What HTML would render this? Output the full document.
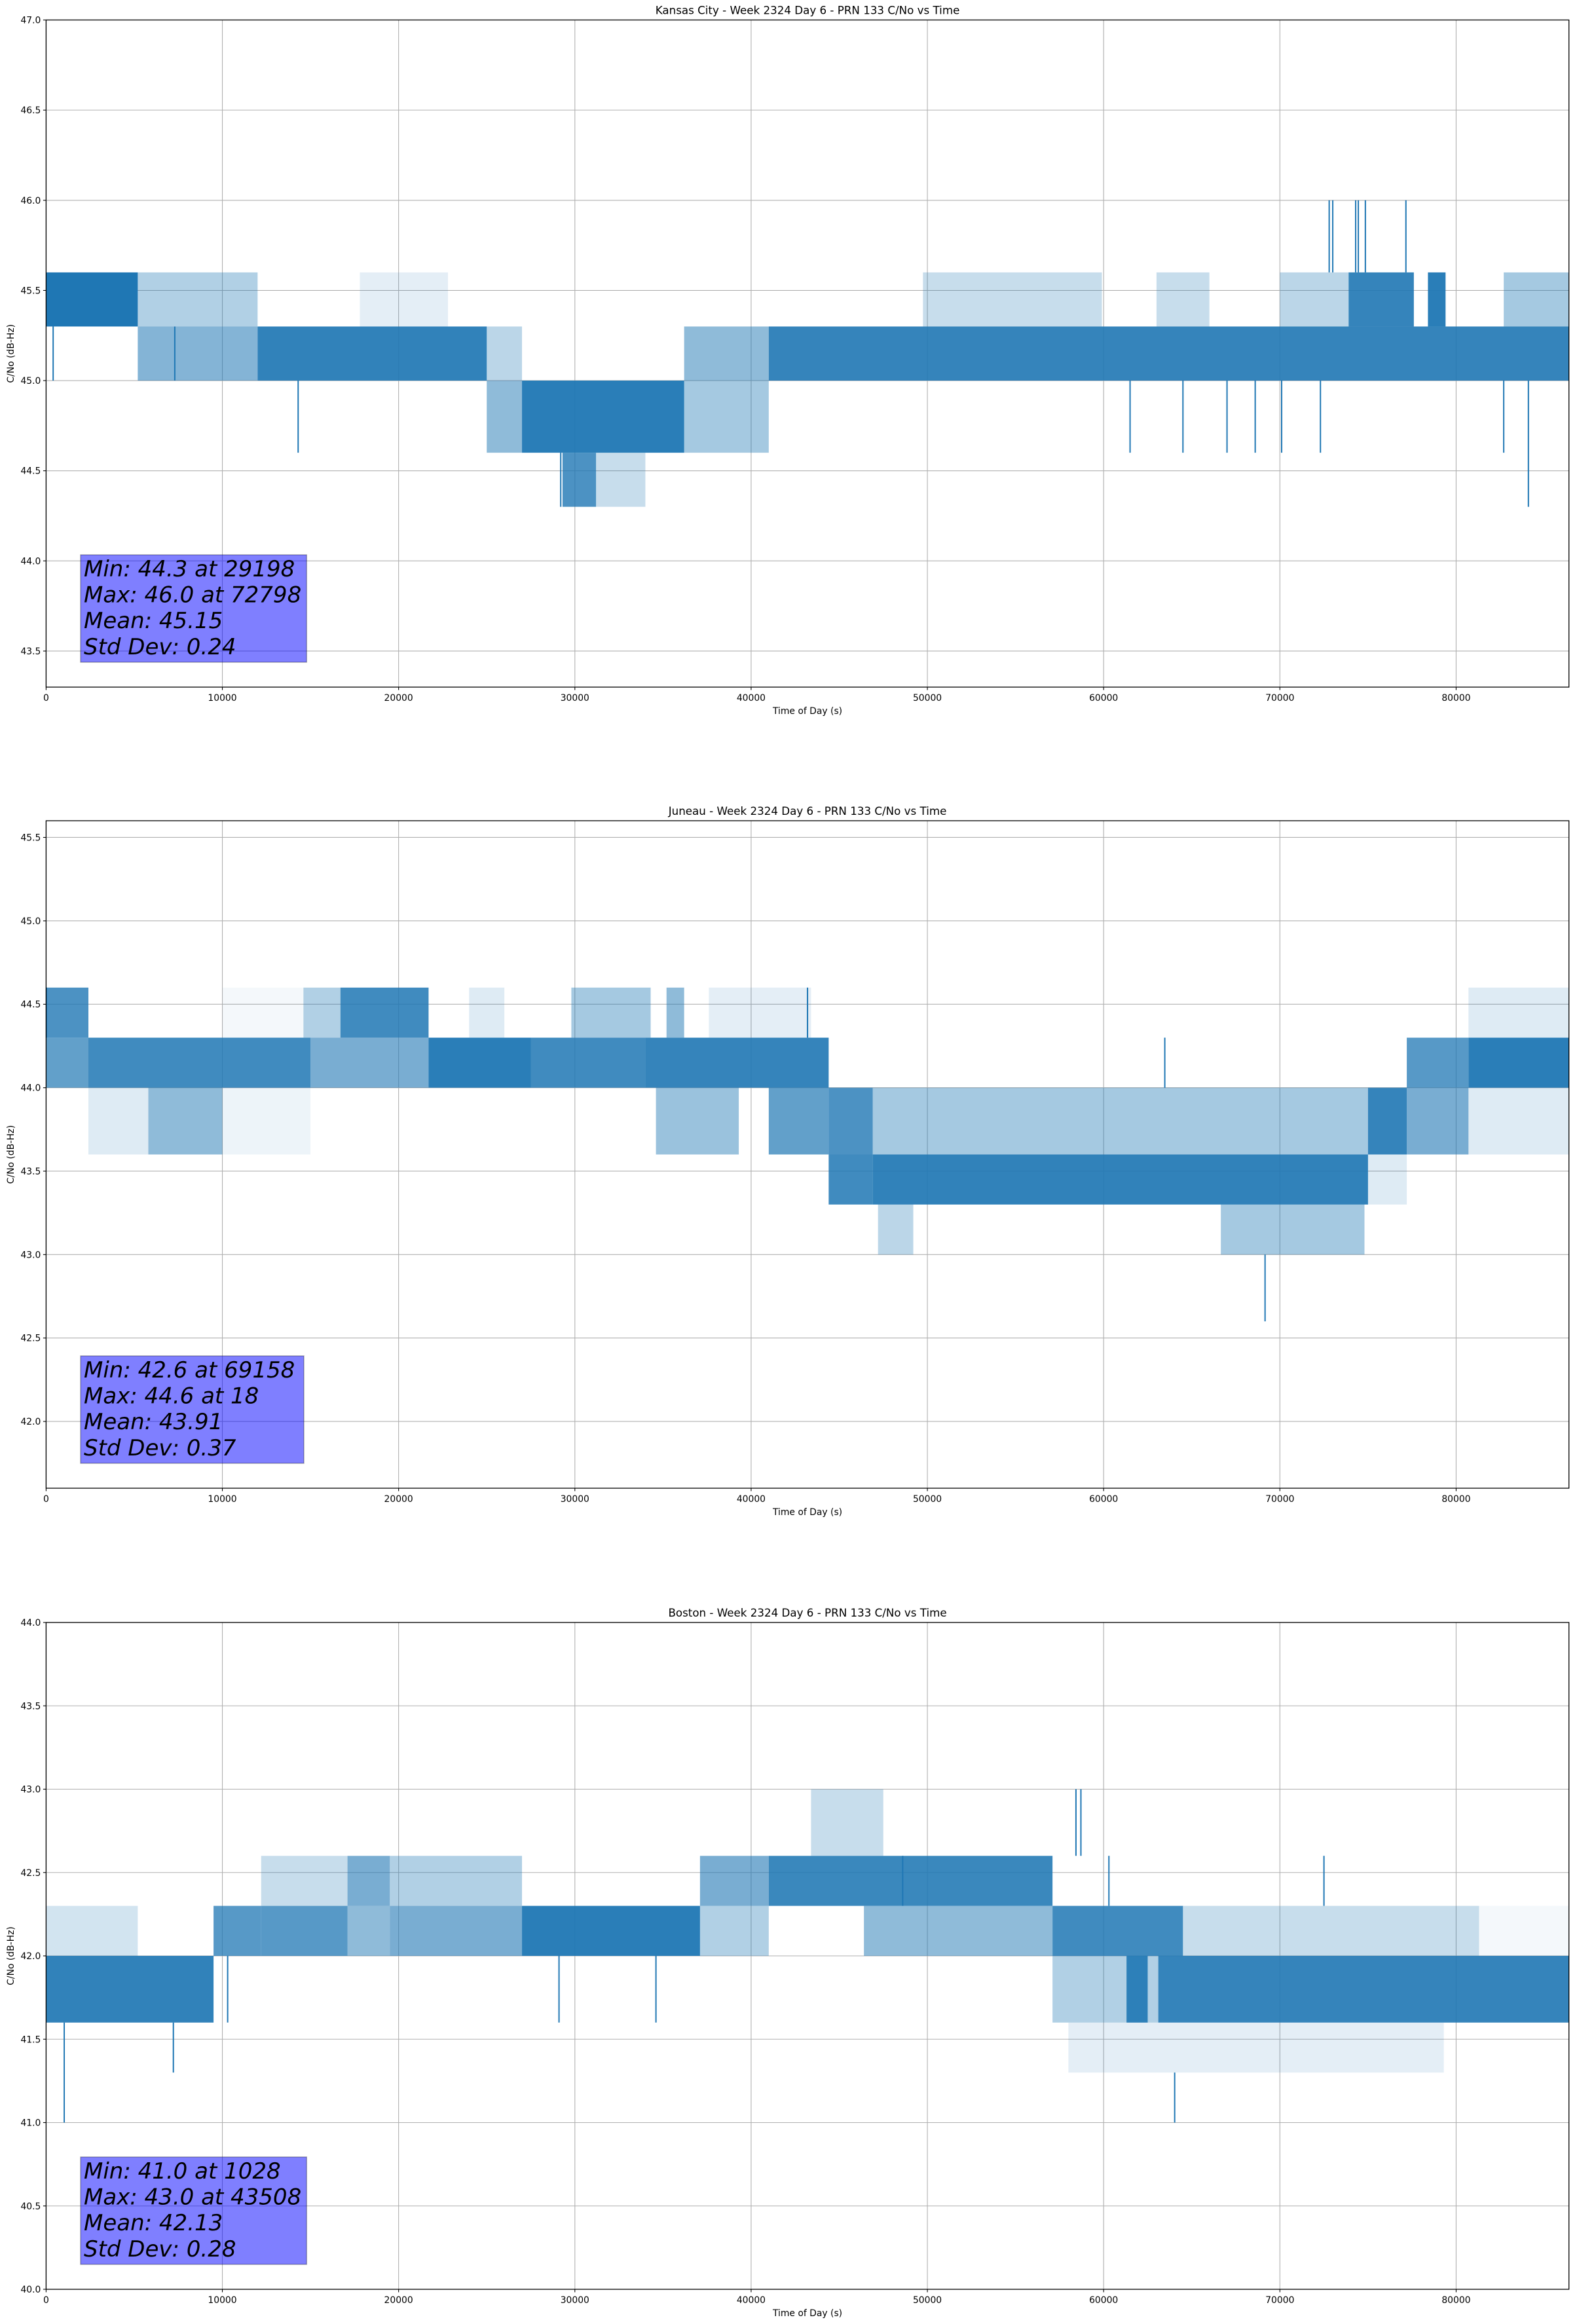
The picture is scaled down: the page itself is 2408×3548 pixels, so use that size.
<!DOCTYPE html>
<html>
<head>
<meta charset="utf-8">
<style>
  html,body{margin:0;padding:0;background:#fff;}
  svg{display:block;font-family:"DejaVu Sans","Liberation Sans",sans-serif;}
</style>
</head>
<body>
<svg id="chart" width="2408" height="3548" viewBox="0 0 2408 3548" xmlns="http://www.w3.org/2000/svg">
  <rect x="0" y="0" width="2408" height="3548" fill="#ffffff"/>
</svg>
<script>
// ---------- shared axis data ----------
const xTicks = [0, 10000, 20000, 30000, 40000, 50000, 60000, 70000, 80000];
const xMax = 86400;

// ---------- Kansas City ----------
const kcTitle = "Kansas City - Week 2324 Day 6 - PRN 133 C/No vs Time";
const kcYTicks = [43.5, 44.0, 44.5, 45.0, 45.5, 46.0, 46.5, 47.0];
const kcBandStart = [0, 5200, 5200, 12000, 17800, 25000, 25000, 27000, 29300, 31200, 36200, 36200, 41000, 49750, 63000, 70000, 73900, 78400, 82700];
const kcBandEnd   = [5200, 12000, 12000, 25000, 22800, 27000, 27000, 36200, 31200, 34000, 41000, 41000, 86400, 59900, 66000, 73900, 77600, 79400, 86400];
const kcBandLo    = [45.3, 45.3, 45.0, 45.0, 45.3, 45.0, 44.6, 44.6, 44.3, 44.3, 44.6, 45.0, 45.0, 45.3, 45.3, 45.3, 45.3, 45.3, 45.3];
const kcBandHi    = [45.6, 45.6, 45.3, 45.3, 45.6, 45.3, 45.0, 45.0, 44.6, 44.6, 45.0, 45.3, 45.3, 45.6, 45.6, 45.6, 45.6, 45.6, 45.6];
const kcBandDen   = [1.0, 0.35, 0.55, 0.92, 0.12, 0.3, 0.5, 0.95, 0.8, 0.25, 0.4, 0.5, 0.9, 0.25, 0.25, 0.3, 0.9, 0.95, 0.4];
const kcSpikeT    = [400, 7300, 14300, 29198, 61500, 64500, 67000, 68600, 70100, 72300, 82700, 84100, 72798, 73000, 74300, 74450, 74850, 77150];
const kcSpikeFrom = [45.3, 45.3, 45.0, 44.6, 45.0, 45.0, 45.0, 45.0, 45.0, 45.0, 45.0, 45.0, 45.6, 45.6, 45.6, 45.6, 45.6, 45.6];
const kcSpikeTo   = [45.0, 45.0, 44.6, 44.3, 44.6, 44.6, 44.6, 44.6, 44.6, 44.6, 44.6, 44.3, 46.0, 46.0, 46.0, 46.0, 46.0, 46.0];
const kcStats = ["Min: 44.3 at 29198", "Max: 46.0 at 72798", "Mean: 45.15", "Std Dev: 0.24"];

// ---------- Juneau ----------
const jnTitle = "Juneau - Week 2324 Day 6 - PRN 133 C/No vs Time";
const jnYTicks = [42.0, 42.5, 43.0, 43.5, 44.0, 44.5, 45.0, 45.5];
const jnBandStart = [0, 0, 2400, 2400, 5800, 10000, 10000, 14600, 16700, 15000, 21700, 24000, 27500, 29800, 35200, 37600, 34000, 34600, 41000, 44400, 44400, 46900, 46900, 47200, 66650, 75000, 75000, 77200, 77200, 80700, 80700, 80700];
const jnBandEnd   = [2400, 2400, 15000, 5800, 10000, 15000, 14600, 16700, 21700, 21700, 27500, 26000, 34000, 34300, 36200, 43400, 44400, 39300, 44400, 46900, 46900, 75000, 75000, 49200, 74800, 77200, 77200, 80700, 80700, 86400, 86400, 86400];
const jnBandLo    = [44.3, 44.0, 44.0, 43.6, 43.6, 43.6, 44.3, 44.3, 44.3, 44.0, 44.0, 44.3, 44.0, 44.3, 44.3, 44.3, 44.0, 43.6, 43.6, 43.6, 43.3, 43.3, 43.6, 43.0, 43.0, 43.6, 43.3, 43.6, 44.0, 44.0, 43.6, 44.3];
const jnBandHi    = [44.6, 44.3, 44.3, 44.0, 44.0, 44.0, 44.6, 44.6, 44.6, 44.3, 44.3, 44.6, 44.3, 44.6, 44.6, 44.6, 44.3, 44.0, 44.0, 44.0, 43.6, 43.6, 44.0, 43.3, 43.3, 44.0, 43.6, 44.0, 44.3, 44.3, 44.0, 44.6];
const jnBandDen   = [0.8, 0.7, 0.85, 0.15, 0.5, 0.08, 0.05, 0.35, 0.85, 0.6, 0.95, 0.15, 0.85, 0.4, 0.5, 0.12, 0.9, 0.45, 0.7, 0.8, 0.85, 0.92, 0.4, 0.3, 0.4, 0.9, 0.15, 0.6, 0.75, 0.95, 0.15, 0.15];
const jnSpikeT    = [18, 43200, 63470, 69158];
const jnSpikeFrom = [44.3, 44.3, 44.0, 43.0];
const jnSpikeTo   = [44.6, 44.6, 44.3, 42.6];
const jnStats = ["Min: 42.6 at 69158", "Max: 44.6 at 18", "Mean: 43.91", "Std Dev: 0.37"];

// ---------- Boston ----------
const bsTitle = "Boston - Week 2324 Day 6 - PRN 133 C/No vs Time";
const bsYTicks = [40.0, 40.5, 41.0, 41.5, 42.0, 42.5, 43.0, 43.5, 44.0];
const bsBandStart = [0, 0, 9500, 12200, 12200, 17100, 17100, 19500, 19500, 27000, 37100, 37100, 41000, 46400, 43400, 57100, 57100, 61300, 63100, 64500, 81300, 58000];
const bsBandEnd   = [9500, 5200, 12200, 17100, 17100, 19500, 19500, 27000, 27000, 37100, 41000, 41000, 57100, 57100, 47500, 64500, 63100, 62500, 86400, 81300, 86400, 79300];
const bsBandLo    = [41.6, 42.0, 42.0, 42.0, 42.3, 42.0, 42.3, 42.0, 42.3, 42.0, 42.3, 42.0, 42.3, 42.0, 42.6, 42.0, 41.6, 41.6, 41.6, 42.0, 42.0, 41.3];
const bsBandHi    = [42.0, 42.3, 42.3, 42.3, 42.6, 42.3, 42.6, 42.3, 42.6, 42.3, 42.6, 42.3, 42.6, 42.3, 43.0, 42.3, 42.0, 42.0, 42.0, 42.3, 42.3, 41.6];
const bsBandDen   = [0.92, 0.2, 0.75, 0.75, 0.25, 0.5, 0.6, 0.6, 0.35, 0.95, 0.6, 0.35, 0.88, 0.5, 0.25, 0.85, 0.35, 0.9, 0.9, 0.25, 0.05, 0.12];
const bsSpikeT    = [1028, 7220, 10300, 29100, 34600, 48600, 60300, 72500, 58430, 58710, 64030];
const bsSpikeFrom = [41.6, 41.6, 42.0, 42.0, 42.0, 42.3, 42.3, 42.3, 42.6, 42.6, 41.3];
const bsSpikeTo   = [41.0, 41.3, 41.6, 41.6, 41.6, 42.6, 42.6, 42.6, 43.0, 43.0, 41.0];
const bsStats = ["Min: 41.0 at 1028", "Max: 43.0 at 43508", "Mean: 42.13", "Std Dev: 0.28"];

// ---------- rendering ----------
const NS = "http://www.w3.org/2000/svg";
const svg = document.getElementById("chart");
const AX_LEFT = 70.4, AX_RIGHT = 2395.7;
const BLUE = "#1f77b4";

function mk(tag, attrs, parent) {
  const e = document.createElementNS(NS, tag);
  for (const k in attrs) e.setAttribute(k, attrs[k]);
  parent.appendChild(e);
  return e;
}

function drawPlot(key, top, bottom, ymin, ymax, title, yTicks, bStart, bEnd, bLo, bHi, bDen, sT, sFrom, sTo, stats) {
  const g = mk("g", {}, svg);
  
  
  const xs = t => AX_LEFT + (t / xMax) * (AX_RIGHT - AX_LEFT);
  const ys = v => bottom - (v - ymin) / (ymax - ymin) * (bottom - top);

  const grid = mk("g", {stroke: "#b0b0b0", "stroke-width": 1.1}, g);
  
  
  xTicks.forEach(t => {
    const l = mk("line", {x1: xs(t), x2: xs(t), y1: top, y2: bottom}, grid);
    
    
  });
  yTicks.forEach(v => {
    const l = mk("line", {x1: AX_LEFT, x2: AX_RIGHT, y1: ys(v), y2: ys(v)}, grid);
    
    
  });

  const series = mk("g", {fill: BLUE}, g);
  
  
  for (let i = 0; i < bStart.length; i++) {
    const r = mk("rect", {x: xs(bStart[i]), y: ys(bHi[i]), width: xs(bEnd[i]) - xs(bStart[i]), height: ys(bLo[i]) - ys(bHi[i]), "fill-opacity": bDen[i]}, series);
    
    
  }
  for (let i = 0; i < sT.length; i++) {
    const l = mk("line", {x1: xs(sT[i]), x2: xs(sT[i]), y1: ys(sFrom[i]), y2: ys(sTo[i]), stroke: BLUE, "stroke-width": 2}, series);
    
    
  }

  const frame = mk("rect", {x: AX_LEFT, y: top, width: AX_RIGHT - AX_LEFT, height: bottom - top, fill: "none", stroke: "#000", "stroke-width": 1.3}, g);
  
  

  xTicks.forEach(t => {
    const tk = mk("line", {x1: xs(t), x2: xs(t), y1: bottom, y2: bottom + 4.5, stroke: "#000", "stroke-width": 1.1}, g);
    
    
    const tx = mk("text", {x: xs(t), y: bottom + 21, "font-size": 13.9, "text-anchor": "middle", fill: "#000"}, g);
    
    
    tx.textContent = String(t);
  });
  yTicks.forEach(v => {
    const tk = mk("line", {x1: AX_LEFT - 4.5, x2: AX_LEFT, y1: ys(v), y2: ys(v), stroke: "#000", "stroke-width": 1.1}, g);
    
    
    const tx = mk("text", {x: AX_LEFT - 8, y: ys(v) + 5, "font-size": 13.9, "text-anchor": "end", fill: "#000"}, g);
    
    
    tx.textContent = v.toFixed(1);
  });

  const tt = mk("text", {x: (AX_LEFT + AX_RIGHT) / 2, y: top - 9, "font-size": 16.7, "text-anchor": "middle", fill: "#000"}, g);
  
  
  tt.textContent = title;

  const xl = mk("text", {x: (AX_LEFT + AX_RIGHT) / 2, y: bottom + 41, "font-size": 13.9, "text-anchor": "middle", fill: "#000"}, g);
  
  
  xl.textContent = "Time of Day (s)";

  const cy = (top + bottom) / 2;
  const yl = mk("text", {x: 0, y: 0, "font-size": 13.9, "text-anchor": "middle", fill: "#000", transform: "translate(21," + cy + ") rotate(-90)"}, g);
  
  
  yl.textContent = "C/No (dB-Hz)";

  const boxBottom = bottom - 38, boxTop = boxBottom - 164, boxLeft = 123;
  const box = mk("rect", {x: boxLeft, y: boxTop, width: 351, height: 164, fill: "rgba(0,0,255,0.5)", stroke: "rgba(0,0,0,0.3)", "stroke-width": 1.5}, g);
  
  
  let maxW = 0;
  stats.forEach((s, i) => {
    const tx = mk("text", {x: boxLeft + 5, y: boxTop + 33 + i * 39.6, "font-size": 34, "font-style": "italic", fill: "#000"}, g);
    
    
    tx.textContent = s;
    maxW = Math.max(maxW, tx.getComputedTextLength());
  });
  if (maxW > 0) box.setAttribute("width", Math.max(341, maxW + 13));
}

drawPlot("kansas-city", 30.5, 1049, 43.3, 47.0, kcTitle, kcYTicks, kcBandStart, kcBandEnd, kcBandLo, kcBandHi, kcBandDen, kcSpikeT, kcSpikeFrom, kcSpikeTo, kcStats);
drawPlot("juneau", 1253, 2272, 41.6, 45.6, jnTitle, jnYTicks, jnBandStart, jnBandEnd, jnBandLo, jnBandHi, jnBandDen, jnSpikeT, jnSpikeFrom, jnSpikeTo, jnStats);
drawPlot("boston", 2477, 3495, 40.0, 44.0, bsTitle, bsYTicks, bsBandStart, bsBandEnd, bsBandLo, bsBandHi, bsBandDen, bsSpikeT, bsSpikeFrom, bsSpikeTo, bsStats);
</script>
</body>
</html>
